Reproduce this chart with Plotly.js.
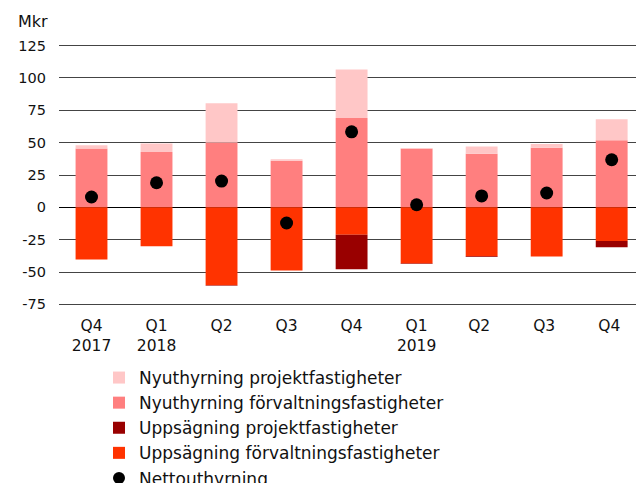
<!DOCTYPE html>
<html><head><meta charset="utf-8">
<script src="https://cdn.plot.ly/plotly-3.0.1.min.js"></script>
<style>html,body{margin:0;padding:0;background:#fff}</style>
</head><body>
<div id="chart" style="width:636px;height:483px"></div>
<script>
const categories = ["Q4<br>2017","Q1<br>2018","Q2","Q3","Q4","Q1<br>2019","Q2 ","Q3 ","Q4 "];
const nyuthyrningForvaltning = [45.5, 42.7, 50.2, 36.0, 69.0, 45.3, 41.4, 46.1, 51.8];
const nyuthyrningProjekt = [2.4, 6.7, 30.3, 1.1, 37.6, 0.5, 5.7, 2.9, 16.2];
const uppsagningForvaltning = [-40.2, -30.1, -60.1, -48.7, -21.2, -43.3, -37.8, -37.9, -26.0];
const uppsagningProjekt = [0, 0, -0.5, 0, -26.7, -0.5, -0.5, 0, -4.9];
const nettouthyrning = [8.0, 19.0, 20.3, -12.1, 58.4, 2.0, 8.8, 11.1, 36.8];
const yTickVals = [-75, -50, -25, 0, 25, 50, 75, 100, 125];
const yTickText = ["-75", "-50", "-25", "0", "25", "50", "75", "100", "125"];

const font = "DejaVu Sans, sans-serif";
const traces = [
  {type:"bar", name:"Nyuthyrning förvaltningsfastigheter", x:categories, y:nyuthyrningForvaltning,
   marker:{color:"#FF7F7F"}, legendrank:2},
  {type:"bar", name:"Nyuthyrning projektfastigheter", x:categories, y:nyuthyrningProjekt,
   marker:{color:"#FFC7C7"}, legendrank:1},
  {type:"bar", name:"Uppsägning förvaltningsfastigheter", x:categories, y:uppsagningForvaltning,
   marker:{color:"#FF3300"}, legendrank:4},
  {type:"bar", name:"Uppsägning projektfastigheter", x:categories, y:uppsagningProjekt,
   marker:{color:"#990000"}, legendrank:3},
  {type:"scatter", mode:"markers", name:"Nettouthyrning", x:categories, y:nettouthyrning,
   marker:{color:"#000000", size:13}, legendrank:5}
];
const layout = {
  width:636, height:483,
  margin:{l:59, r:0, t:43, b:176, autoexpand:false},
  barmode:"relative", bargap:0.51,
  paper_bgcolor:"#fff", plot_bgcolor:"#fff",
  font:{family:font, size:14.5, color:"#111"},
  showlegend:true,
  legend:{xref:"container", yref:"container", x:99/636, y:1-360/483, xanchor:"left", yanchor:"top",
          font:{family:font, size:17, color:"#111"}, traceorder:"normal", tracegroupgap:0,
          itemsizing:"constant", bgcolor:"rgba(0,0,0,0)"},
  xaxis:{type:"category", range:[-0.5, 8.374], showgrid:false, showline:false, zeroline:false,
         ticks:"", tickangle:0, ticklabelstandoff:7, tickfont:{family:font, size:15.5, color:"#111"}, fixedrange:true},
  yaxis:{range:[-77, 127], tickvals:yTickVals, ticktext:yTickText, showgrid:true,
         gridcolor:"#444", gridwidth:1, zeroline:true, zerolinecolor:"#000", zerolinewidth:1,
         showline:false, ticks:"", ticklabelstandoff:12, tickfont:{family:font, size:14.5, color:"#111"}, fixedrange:true},
  annotations:[{text:"Mkr", xref:"paper", yref:"paper", x:(16-59)/577, y:(307-21)/264, xanchor:"left",
                yanchor:"middle", showarrow:false, font:{family:font, size:16, color:"#111"}}]
};
Plotly.newPlot("chart", traces, layout, {staticPlot:true, displayModeBar:false});
</script>
</body></html>
